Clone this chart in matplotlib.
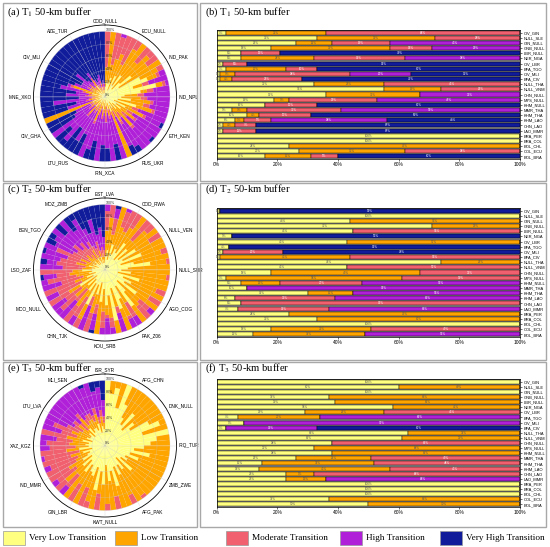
import numpy as np
import matplotlib.pyplot as plt
from matplotlib.patches import Rectangle

plt.rcParams['font.family'] = ['Liberation Sans', 'DejaVu Sans']
plt.rcParams['mathtext.fontset'] = 'stix'

# classes and colours
classes = ['Very Low Transition', 'Low Transition', 'Moderate Transition',
           'High Transition', 'Very High Transition']
colors = ['#FFFF80', '#FFA500', '#F0606E', '#B020D8', '#101C9A']
txt_colors = ['#555555', '#555555', 'white', 'white', 'white']

# ---- bar charts (b), (d), (f): shares in % per border segment ----
borders = ['CIV_GIN', 'NULL_SLE', 'GIN_NULL', 'GNB_NULL', 'LBR_NULL', 'NER_NGA',
           'CIV_LBR', 'BFA_TGO', 'CIV_MLI', 'BFA_CIV', 'NULL_THA', 'NULL_VNM',
           'CHN_NULL', 'MYS_NULL', 'KHM_NULL', 'MMR_THA', 'KHM_THA', 'KHM_LAO',
           'CHN_LAO', 'LAO_MMR', 'BRA_PER', 'BRA_COL', 'BOL_CHL', 'COL_ECU', 'BOL_BRA']

t1_vl = [3, 33, 26, 18, 8, 8, 2, 3, 1, 1, 32, 55, 36, 19, 16, 5, 10, 6, 2, 2, 100, 100, 24, 27, 16]
t1_lo = [33, 39, 12, 39, 0, 24, 0, 20, 5, 4, 23, 19, 31, 5, 0, 5, 4, 3, 4, 0, 0, 0, 76, 35, 15]
t1_mo = [64, 28, 19, 14, 13, 30, 8, 10, 38, 23, 45, 26, 0, 29, 17, 31, 17, 9, 7, 11, 0, 0, 0, 38, 9]
t1_hi = [0, 0, 43, 29, 0, 38, 0, 0, 20, 0, 0, 0, 33, 47, 0, 59, 0, 38, 0, 0, 0, 0, 0, 0, 0]
t1_vh = [0, 0, 0, 0, 79, 0, 90, 67, 36, 72, 0, 0, 0, 0, 67, 0, 69, 44, 87, 87, 0, 0, 0, 0, 60]

t2_vl = [1, 100, 44, 71, 45, 5, 43, 4, 2, 1, 74, 43, 18, 3, 8, 10, 30, 6, 8, 7, 24, 33, 100, 18, 12]
t2_lo = [0, 0, 56, 29, 0, 0, 57, 0, 0, 43, 26, 0, 49, 58, 13, 0, 15, 0, 0, 0, 76, 67, 0, 33, 37]
t2_mo = [0, 0, 0, 0, 55, 0, 0, 0, 20, 56, 0, 57, 33, 39, 27, 0, 0, 33, 92, 30, 0, 0, 0, 49, 0]
t2_hi = [0, 0, 0, 0, 0, 0, 0, 0, 0, 0, 0, 0, 0, 0, 52, 90, 55, 61, 0, 63, 0, 0, 0, 0, 51]
t2_vh = [99, 0, 0, 0, 0, 95, 0, 96, 78, 0, 0, 0, 0, 0, 0, 0, 0, 0, 0, 0, 0, 0, 0, 0, 0]

t3_vl = [100, 60, 100, 37, 39, 58, 29, 7, 9, 3, 63, 61, 38, 32, 38, 26, 15, 14, 23, 23, 100, 100, 100, 37, 50]
t3_lo = [0, 40, 0, 63, 61, 42, 26, 27, 0, 0, 37, 39, 0, 68, 62, 25, 37, 43, 9, 13, 0, 0, 0, 63, 50]
t3_mo = [0, 0, 0, 0, 0, 0, 45, 0, 0, 0, 0, 0, 62, 0, 0, 49, 48, 43, 68, 0, 0, 0, 0, 0, 0]
t3_hi = [0, 0, 0, 0, 0, 0, 0, 66, 91, 30, 0, 0, 0, 0, 0, 0, 0, 0, 0, 64, 0, 0, 0, 0, 0]
t3_vh = [0, 0, 0, 0, 0, 0, 0, 0, 0, 67, 0, 0, 0, 0, 0, 0, 0, 0, 0, 0, 0, 0, 0, 0, 0]

# ---- polar charts (a), (c), (e): cumulative class limits (%) per wedge,
# clockwise from north: end of very low, low, moderate, high; rest is very high ----
t1_names = ['COD_NULL', 'ECU_NULL', 'IND_PAK', 'IND_NPL', 'ETH_KEN', 'RUS_UKR',
            'IRN_XCA', 'LTU_RUS', 'CIV_GHA', 'MNE_XKO', 'CIV_MLI', 'AZE_TUR']
t1_cuts = [(15, 45, 100, 100), (25, 100, 100, 100), (20, 50, 100, 100), (30, 60, 95, 100),
           (10, 70, 100, 100), (35, 55, 100, 100), (20, 85, 100, 100), (40, 100, 100, 100),
           (15, 70, 100, 100), (30, 90, 100, 100), (50, 80, 100, 100), (25, 100, 100, 100),
           (60, 90, 100, 100), (70, 85, 90, 100), (45, 60, 70, 100), (80, 90, 95, 100),
           (55, 65, 75, 100), (30, 50, 60, 100), (25, 55, 65, 100), (40, 70, 75, 100),
           (20, 60, 70, 100), (50, 75, 80, 100), (15, 45, 55, 100), (35, 65, 70, 95),
           (20, 40, 50, 100), (30, 55, 60, 100), (15, 35, 45, 95), (25, 60, 65, 100),
           (10, 30, 40, 100), (20, 45, 50, 90), (15, 25, 35, 85), (25, 100, 100, 100),
           (10, 20, 30, 100), (20, 30, 35, 75), (5, 15, 25, 100), (15, 30, 40, 80),
           (10, 20, 25, 75), (20, 30, 35, 100), (5, 15, 20, 70), (15, 25, 30, 85),
           (10, 40, 45, 100), (5, 15, 25, 65), (15, 25, 30, 80), (10, 20, 25, 60),
           (20, 35, 40, 90), (5, 15, 20, 70), (10, 25, 30, 100), (15, 20, 25, 55),
           (10, 20, 25, 50), (20, 100, 100, 100), (5, 15, 20, 60), (15, 25, 30, 45),
           (10, 20, 25, 80), (5, 15, 20, 40), (15, 25, 30, 60), (10, 20, 25, 45),
           (20, 30, 35, 70), (5, 50, 55, 60), (10, 20, 25, 50), (15, 25, 30, 40),
           (10, 20, 25, 40), (15, 25, 30, 55), (5, 15, 20, 35), (10, 20, 25, 30),
           (20, 30, 35, 45), (5, 15, 20, 30), (10, 15, 20, 25), (5, 10, 15, 30),
           (15, 20, 25, 35), (5, 10, 15, 20), (10, 15, 20, 25), (5, 10, 15, 20)]

t2_names = ['EST_LVA', 'COD_RWA', 'NULL_VEN', 'NULL_SUR', 'AGO_COG', 'PAK_Z06',
            'KOU_SRB', 'CHN_TJK', 'MCO_NULL', 'LSO_ZAF', 'BEN_TGO', 'MOZ_ZMB']
t2_cuts = [(20, 60, 90, 100), (30, 80, 100, 100), (15, 55, 80, 95), (40, 100, 100, 100),
           (25, 70, 95, 100), (35, 65, 100, 100), (30, 75, 100, 100), (50, 100, 100, 100),
           (20, 60, 100, 100), (45, 85, 100, 100), (25, 100, 100, 100), (55, 80, 100, 100),
           (30, 100, 100, 100), (60, 100, 100, 100), (25, 90, 100, 100), (45, 100, 100, 100),
           (70, 95, 100, 100), (35, 100, 100, 100), (25, 100, 100, 100), (40, 95, 100, 100),
           (20, 100, 100, 100), (55, 100, 100, 100), (30, 85, 100, 100), (45, 100, 100, 100),
           (35, 80, 100, 100), (60, 100, 100, 100), (25, 70, 90, 100), (45, 75, 100, 100),
           (70, 100, 100, 100), (30, 60, 85, 100), (50, 80, 85, 100), (65, 100, 100, 100),
           (30, 60, 70, 100), (80, 100, 100, 100), (40, 75, 90, 100), (55, 70, 75, 100),
           (30, 65, 90, 100), (50, 100, 100, 100), (20, 55, 70, 95), (40, 70, 100, 100),
           (25, 45, 60, 100), (60, 85, 100, 100), (25, 50, 85, 100), (40, 70, 100, 100),
           (20, 40, 65, 100), (35, 60, 90, 100), (15, 45, 75, 100), (45, 65, 100, 100),
           (20, 40, 80, 100), (30, 50, 100, 100), (15, 35, 70, 100), (25, 45, 90, 100),
           (20, 55, 75, 95), (35, 50, 100, 100), (20, 35, 65, 100), (15, 30, 75, 90),
           (25, 45, 70, 100), (10, 30, 60, 95), (20, 40, 80, 100), (15, 25, 55, 85),
           (15, 30, 50, 90), (20, 35, 60, 100), (10, 25, 45, 80), (15, 30, 55, 100),
           (10, 20, 40, 75), (20, 35, 50, 90), (15, 25, 40, 70), (10, 20, 35, 60),
           (20, 30, 45, 80), (10, 20, 30, 55), (15, 25, 35, 65), (10, 20, 30, 50)]

t3_names = ['ISR_SYR', 'AFG_CHN', 'DNK_NULL', 'IRQ_TUR', 'ZMB_ZWE', 'AFG_PAK',
            'KWT_NULL', 'GIN_LBR', 'IND_MMR', 'XAZ_KGZ', 'LTU_LVA', 'MLI_SEN']
t3_cuts = [(100, 100, 100, 100), (80, 100, 100, 100), (90, 100, 100, 100), (60, 100, 100, 100),
           (100, 100, 100, 100), (70, 100, 100, 100), (50, 100, 100, 100), (40, 100, 100, 100),
           (65, 100, 100, 100), (35, 100, 100, 100), (55, 100, 100, 100), (45, 100, 100, 100),
           (75, 100, 100, 100), (90, 100, 100, 100), (60, 100, 100, 100), (100, 100, 100, 100),
           (80, 100, 100, 100), (70, 100, 100, 100), (60, 100, 100, 100), (45, 100, 100, 100),
           (70, 100, 100, 100), (40, 100, 100, 100), (55, 100, 100, 100), (35, 100, 100, 100),
           (40, 100, 100, 100), (30, 100, 100, 100), (55, 100, 100, 100), (25, 100, 100, 100),
           (45, 95, 100, 100), (35, 100, 100, 100), (50, 85, 100, 100), (35, 100, 100, 100),
           (65, 100, 100, 100), (40, 80, 100, 100), (55, 100, 100, 100), (30, 90, 100, 100),
           (60, 100, 100, 100), (40, 75, 100, 100), (70, 100, 100, 100), (35, 90, 100, 100),
           (50, 70, 100, 100), (45, 100, 100, 100), (35, 70, 100, 100), (50, 100, 100, 100),
           (30, 60, 85, 100), (45, 80, 100, 100), (25, 55, 90, 100), (40, 65, 100, 100),
           (30, 50, 100, 100), (25, 45, 90, 100), (35, 55, 100, 100), (20, 40, 95, 100),
           (40, 60, 100, 100), (25, 45, 85, 100), (30, 55, 90, 100), (25, 50, 75, 100),
           (35, 60, 100, 100), (20, 45, 70, 100), (30, 55, 85, 100), (25, 45, 65, 100),
           (25, 40, 55, 100), (30, 50, 60, 100), (20, 35, 50, 100), (35, 55, 65, 100),
           (25, 40, 50, 100), (30, 45, 55, 100), (30, 45, 55, 100), (25, 40, 50, 95),
           (35, 50, 60, 100), (20, 35, 45, 85), (30, 45, 55, 90), (25, 35, 45, 70)]

W, H = 550, 547
fig = plt.figure(figsize=(W / 100, H / 100), dpi=100)


def fig_rect(x0, y0, x1, y1):
    # pixel box (top-left origin) -> figure fraction rect
    return [x0 / W, 1 - y1 / H, (x1 - x0) / W, (y1 - y0) / H]


def draw_polar(rect, cuts, names):
    ax = fig.add_axes(rect, projection='polar')
    cuts = np.array(cuts, float)
    n = len(cuts)
    width = 2 * np.pi / n
    theta = np.arange(n) * width + width / 2
    lims = np.column_stack([np.zeros(n), cuts, np.full(n, 100.0)])
    for k in range(5):
        ax.bar(theta, lims[:, k + 1] - lims[:, k], width=width, bottom=lims[:, k],
               color=colors[k], linewidth=0, align='center')
    ax.set_theta_zero_location('N')
    ax.set_theta_direction(-1)
    ax.set_ylim(0, 110)
    ax.set_yticks([0, 20, 40, 60, 80, 100])
    ax.set_yticklabels(['0%', '20%', '40%', '60%', '80%', '100%'], fontsize=2.6, color='#333333')
    ax.set_rlabel_position(1)
    ang = np.arange(0, 360, 30)
    ax.set_xticks(np.deg2rad(ang))
    ax.set_xticklabels([])
    # border names just outside the ring
    for a, name in zip(ang, names):
        sx, cy = np.sin(np.deg2rad(a)), np.cos(np.deg2rad(a))
        ha = 'left' if sx > 0.2 else ('right' if sx < -0.2 else 'center')
        va = 'bottom' if cy > 0.2 else ('top' if cy < -0.2 else 'center')
        ax.text(np.deg2rad(a), 113, name, ha=ha, va=va, fontsize=3.4)
    ax.grid(color='#c8c8c8', linewidth=0.35, alpha=0.55)
    ax.set_axisbelow(False)
    ax.spines['polar'].set_linewidth(0.6)
    return ax


def draw_bars(rect, shares):
    ax = fig.add_axes(rect)
    y = np.arange(len(borders))
    left = np.zeros(len(borders))
    for k, vals in enumerate(shares):
        vals = np.array(vals, float)
        ax.barh(y, vals, left=left.copy(), height=0.78, color=colors[k],
                edgecolor='black', linewidth=0.3)
        for yi in y:
            if vals[yi] > 0:
                ax.text(left[yi] + vals[yi] / 2, yi, f'{vals[yi]:.0f}%', ha='center',
                        va='center', fontsize=2.2, color=txt_colors[k])
        left = left + vals
    ax.set_xlim(0, 100)
    ax.set_ylim(len(borders) - 0.5, -0.5)
    ax.set_facecolor('#8c8c8c')
    ax.yaxis.tick_right()
    ax.set_yticks(y)
    ax.set_yticklabels(borders, fontsize=2.9)
    ax.set_xticks(np.arange(0, 101, 20))
    ax.set_xticklabels([f'{v}%' for v in range(0, 101, 20)], fontsize=3.5)
    ax.tick_params(length=1.5, width=0.4, pad=1)
    for s in ax.spines.values():
        s.set_linewidth(0.5)
    return ax


rows = [
    ('(a)', '(b)', '1', t1_cuts, t1_names, [t1_vl, t1_lo, t1_mo, t1_hi, t1_vh], 3, 181, 9, 25, 168, 30, 159),
    ('(c)', '(d)', '2', t2_cuts, t2_names, [t2_vl, t2_lo, t2_mo, t2_hi, t2_vh], 183, 360, 6, 198, 341, 208, 337),
    ('(e)', '(f)', '3', t3_cuts, t3_names, [t3_vl, t3_lo, t3_mo, t3_hi, t3_vh], 362, 527, 6, 374, 517, 379, 507),
]

for pl, bl, sub, cuts, names, shares, fy0, fy1, toff, py0, py1, by0, by1 in rows:
    # panel frames
    for x0, x1 in [(3, 197), (200, 546)]:
        fig.add_artist(Rectangle((x0 / W, 1 - fy1 / H), (x1 - x0) / W, (fy1 - fy0) / H,
                                 transform=fig.transFigure, fill=False,
                                 edgecolor='#a8a8a8', linewidth=1.0))
    fig.text(7 / W, 1 - (fy0 + toff) / H, f'{pl} T$_{sub}$ 50-km buffer', family='Liberation Serif',
             fontsize=7.6, va='center', ha='left')
    fig.text(205 / W, 1 - (fy0 + toff) / H, f'{bl} T$_{sub}$ 50-km buffer', family='Liberation Serif',
             fontsize=7.6, va='center', ha='left')
    draw_polar(fig_rect(33, py0, 177, py1), cuts, names)
    draw_bars(fig_rect(216.7, by0, 520, by1), shares)

# legend at the bottom
leg_x = [3, 115, 226, 340, 440]
for k, x in enumerate(leg_x):
    fig.add_artist(Rectangle((x / W, 1 - 545 / H), 22 / W, 14 / H, transform=fig.transFigure,
                             facecolor=colors[k], edgecolor='#999999', linewidth=0.5))
    fig.text((x + 26) / W, 1 - 538 / H, classes[k], family='Liberation Serif', fontsize=6.7,
             va='center', ha='left')

fig.savefig('out.png', dpi=100)
